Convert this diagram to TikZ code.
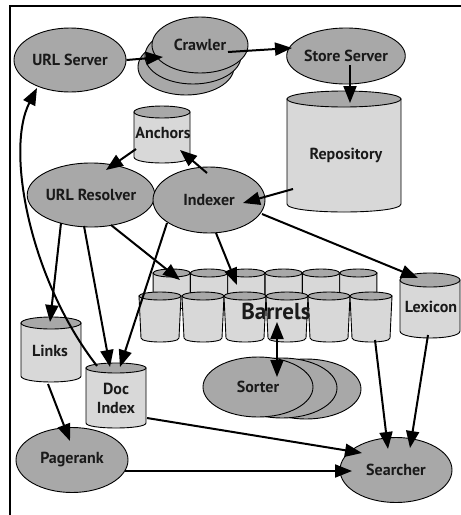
\documentclass[tikz,border=0pt]{standalone}
\usepackage{fontspec}
\setmainfont{PT Sans}
\usetikzlibrary{shapes.geometric,arrows.meta,calc}
\definecolor{procfill}{HTML}{A8A8A8}
\definecolor{cylfill}{HTML}{D8D8D8}
\definecolor{cyltopfill}{HTML}{A8A8A8}
\definecolor{txtcol}{HTML}{1A1A1A}
% #1 cx, #2 y of top ellipse centre, #3 top half width, #4 y where sides end, #5 ry, #6 bottom half width
\newcommand\mycyl[6]{%
  \path[cylbody] (#1-#3,#2) -- (#1-#6,#4) .. controls (#1-#6,#4+1.333*#5) and (#1+#6,#4+1.333*#5) .. (#1+#6,#4) -- (#1+#3,#2) -- cycle;
  \path[cyltop] (#1,#2) ellipse[x radius=#3, y radius=#5];
}
\begin{document}
\begin{tikzpicture}[x=1pt,y=-1pt,
  proc/.style={ellipse, draw=black, line width=0.9pt, fill=procfill, inner sep=0pt,
    minimum width=112pt, minimum height=64pt, font=\fontsize{16}{19}\selectfont\bfseries, text=txtcol},
  lbl/.style={font=\fontsize{16}{19}\selectfont\bfseries, text=txtcol, align=center, inner sep=0pt},
  cylbody/.style={fill=cylfill, draw=black, line width=0.9pt},
  cyltop/.style={fill=cyltopfill, draw=black, line width=0.9pt},
  conn/.style={line width=2pt, -{Triangle[length=17pt,width=13pt]}},
  bconn/.style={line width=2pt, {Triangle[length=17pt,width=13pt]}-{Triangle[length=17pt,width=13pt]}}
]
\useasboundingbox (0,0) rectangle (461,515);
\fill[white] (0,0) rectangle (461,515);
\draw[line width=2pt] (10,515) -- (10,6) -- (461,6);

% Crawler stack
\node[proc, minimum width=96pt, minimum height=56pt] (crawler3) at (186,67) {};
\node[proc, minimum width=96pt, minimum height=56pt] (crawler2) at (193,56) {};
\node[proc, minimum width=96pt, minimum height=56pt] (crawler) at (200,45) {Crawler};

\node[proc] (urlserver) at (70,60) {URL Server};
\node[proc, minimum width=113pt, minimum height=56pt] (storeserver) at (346,56) {Store Server};

% Repository
\mycyl{344}{99}{57}{204}{8}{57}
\node[lbl] (repository) at (346,155) {Repository};

% Anchors
\mycyl{162}{112}{28}{157}{6}{28}
\node[lbl] (anchors) at (163,133) {Anchors};

\node[proc] (urlresolver) at (91,195) {URL Resolver};
\node[proc, minimum height=66pt] (indexer) at (209,200) {Indexer};

% Barrels back row
\foreach \cx in {171.7,209,246.3,283.7,321,358.3}{
  \mycyl{\cx}{273}{18.6}{305}{4}{18.6}
}
% Barrels front row
\foreach \cx in {160,203,245,287,329,371}{
  \mycyl{\cx}{296}{21}{338}{4}{19}
}
\node[lbl, font=\fontsize{23}{26}\selectfont\bfseries] (barrels) at (276,311) {Barrels};

% Lexicon
\mycyl{430}{280}{30}{331}{7}{30}
\node[lbl] (lexicon) at (431,307) {Lexicon};

% Links
\mycyl{51}{323}{30}{376}{6}{30}
\node[lbl] (links) at (50,351) {Links};

% Doc Index
\mycyl{116}{368}{30}{423}{5}{30}
\node[lbl, text width=60pt] (docindex) at (116,398) {Doc\\Index};

% Sorter stack
\node[proc, minimum width=110pt, minimum height=60pt] (sorter3) at (306,389) {};
\node[proc, minimum width=110pt, minimum height=60pt] (sorter2) at (282,388) {};
\node[proc, minimum width=110pt, minimum height=60pt] (sorter) at (258,387) {Sorter};

\node[proc, minimum height=65pt] (pagerank) at (72,460) {Pagerank};
\node[proc, minimum height=65pt] (searcher) at (396,470) {Searcher};

% Connectors
\draw[conn] (urlserver.east) -- ($(crawler)+(-37,12)$);
\draw[conn] ($(crawler)+(28,7)$) -- ($(storeserver)+(-54,-8)$);
\draw[conn] ($(storeserver)+(4,9)$) -- ($(repository)+(4,-52)$);
\draw[conn] ($(repository)+(-53,34)$) -- ($(indexer)+(34,3)$);
\draw[conn] ($(indexer)+(-2,-27)$) -- ($(anchors)+(17,17)$);
\draw[conn] ($(anchors)+(-27,16)$) -- ($(urlresolver)+(15,-25)$);
\draw[conn] ($(urlresolver)+(-30,28)$) -- ($(links)+(0,-29)$);
\draw[conn] ($(urlresolver)+(-7,31)$) -- ($(docindex)+(-6,-31)$);
\draw[conn] ($(urlresolver)+(20,30)$) -- ($(barrels)+(-96,-31)$);
\draw[conn] ($(indexer)+(7,33)$) -- ($(barrels)+(-39,-26)$);
\draw[conn] ($(indexer)+(53,14)$) -- ($(lexicon)+(-13,-29)$);
\draw[conn] ($(indexer)+(-42,23)$) -- ($(docindex)+(4,-31)$);
\draw[conn] ($(docindex)+(-19,-32)$) .. controls (30,280) and (5,150) .. ($(urlserver)+(-33,28)$);
\draw[conn] ($(links)+(-2,33)$) -- ($(pagerank)+(-2,-19)$);
\draw[conn] ($(pagerank)+(53,11)$) -- ($(searcher)+(-44,1)$);
\draw[conn] ($(docindex)+(31,20)$) -- ($(searcher)+(-34,-17)$);
\draw[conn] ($(barrels)+(99,29)$) -- ($(searcher)+(-8,-21)$);
\draw[conn] ($(lexicon)+(-3,28)$) -- ($(searcher)+(14,-22)$);
\draw[bconn] ($(barrels)+(1,11)$) -- ($(sorter)+(19,-10)$);
\end{tikzpicture}
\end{document}
